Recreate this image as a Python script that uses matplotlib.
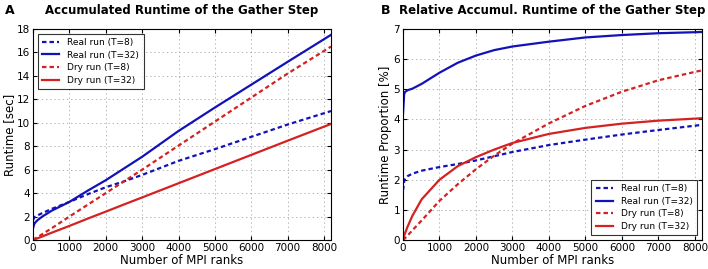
import matplotlib
matplotlib.use("Agg")
import matplotlib.pyplot as plt

# MPI ranks (x axis)
ranks = [1, 32, 64, 128, 256, 512, 1000, 1500, 2000, 2500, 3000, 4000, 5000, 6000, 7000, 8192]

# A) accumulated runtime [sec]
abs_real_t8 = [1.7, 1.9, 2.0, 2.1, 2.3, 2.65, 3.25, 3.9, 4.5, 5.0, 5.55, 6.75, 7.75, 8.8, 9.85, 11.0]
abs_real_t32 = [1.0, 1.35, 1.5, 1.7, 2.0, 2.5, 3.25, 4.2, 5.1, 6.1, 7.1, 9.3, 11.3, 13.25, 15.2, 17.5]
abs_dry_t8 = [0.0, 0.07, 0.13, 0.25, 0.5, 1.0, 2.0, 3.0, 4.0, 5.0, 6.0, 8.05, 10.1, 12.15, 14.2, 16.5]
abs_dry_t32 = [0.0, 0.04, 0.08, 0.15, 0.3, 0.62, 1.2, 1.82, 2.42, 3.03, 3.63, 4.84, 6.05, 7.26, 8.47, 9.9]

# B) relative accumulated runtime [%]
rel_real_t8 = [1.65, 1.95, 2.05, 2.12, 2.2, 2.3, 2.42, 2.52, 2.64, 2.78, 2.92, 3.15, 3.33, 3.5, 3.65, 3.82]
rel_real_t32 = [4.2, 4.85, 4.92, 4.97, 5.02, 5.18, 5.55, 5.88, 6.12, 6.3, 6.42, 6.58, 6.72, 6.8, 6.86, 6.9]
rel_dry_t8 = [0.0, 0.03, 0.07, 0.15, 0.32, 0.65, 1.3, 1.85, 2.35, 2.8, 3.2, 3.87, 4.45, 4.92, 5.3, 5.63]
rel_dry_t32 = [0.0, 0.15, 0.25, 0.45, 0.8, 1.35, 2.0, 2.45, 2.75, 3.0, 3.22, 3.52, 3.72, 3.86, 3.96, 4.04]

labels = ["Real run (T=8)", "Real run (T=32)", "Dry run (T=8)", "Dry run (T=32)"]

BLUE = "#1212b8"
RED = "#d42222"

plt.rcParams["font.family"] = "DejaVu Sans"
plt.rcParams["lines.scale_dashes"] = False


def draw(ax, series, title, ylabel, ymax, legend_loc):
    styles = [(BLUE, "--"), (BLUE, "-"), (RED, "--"), (RED, "-")]
    for ys, (c, ls), lab in zip(series, styles, labels):
        line, = ax.plot(ranks, ys, color=c, ls=ls, lw=1.6, label=lab)
        if ls == "--":
            line.set_dashes((3.2, 2.2))
    ax.set_xlim(0, 8192)
    ax.set_ylim(0, ymax)
    ax.set_xticks(range(0, 8001, 1000))
    ax.set_yticks(range(0, ymax + 1, 2 if ymax > 10 else 1))
    ax.grid(True, ls=(0, (1, 2)), color="#aaaaaa", lw=0.6)
    ax.tick_params(direction="in", top=True, right=True, labelsize=7.5, length=3, pad=2)
    ax.set_xlabel("Number of MPI ranks", fontsize=8.5, labelpad=1)
    ax.set_ylabel(ylabel, fontsize=8.5, labelpad=1)
    ax.set_title(title, fontsize=8.5, fontweight="bold", pad=11)
    leg = ax.legend(loc=legend_loc, fontsize=6.5, fancybox=False, handlelength=1.9,
                    borderpad=0.5, labelspacing=0.4, handletextpad=0.9)
    leg.get_frame().set_edgecolor("black")
    leg.get_frame().set_linewidth(0.8)
    for sp in ax.spines.values():
        sp.set_linewidth(0.8)


fig = plt.figure(figsize=(7.08, 2.69), dpi=100)
ax1 = fig.add_axes([33 / 708, 1 - 240 / 269, 298 / 708, 211 / 269])
ax2 = fig.add_axes([403 / 708, 1 - 240 / 269, 299 / 708, 211 / 269])

draw(ax1, [abs_real_t8, abs_real_t32, abs_dry_t8, abs_dry_t32],
     "Accumulated Runtime of the Gather Step", "Runtime [sec]", 18, "upper left")
draw(ax2, [rel_real_t8, rel_real_t32, rel_dry_t8, rel_dry_t32],
     "Relative Accumul. Runtime of the Gather Step", "Runtime Proportion [%]", 7, "lower right")

fig.text(5 / 708, 1 - 10 / 269, "A", fontsize=9, fontweight="bold", va="center")
fig.text(381 / 708, 1 - 10 / 269, "B", fontsize=9, fontweight="bold", va="center")

fig.savefig("out.png", dpi=100)
